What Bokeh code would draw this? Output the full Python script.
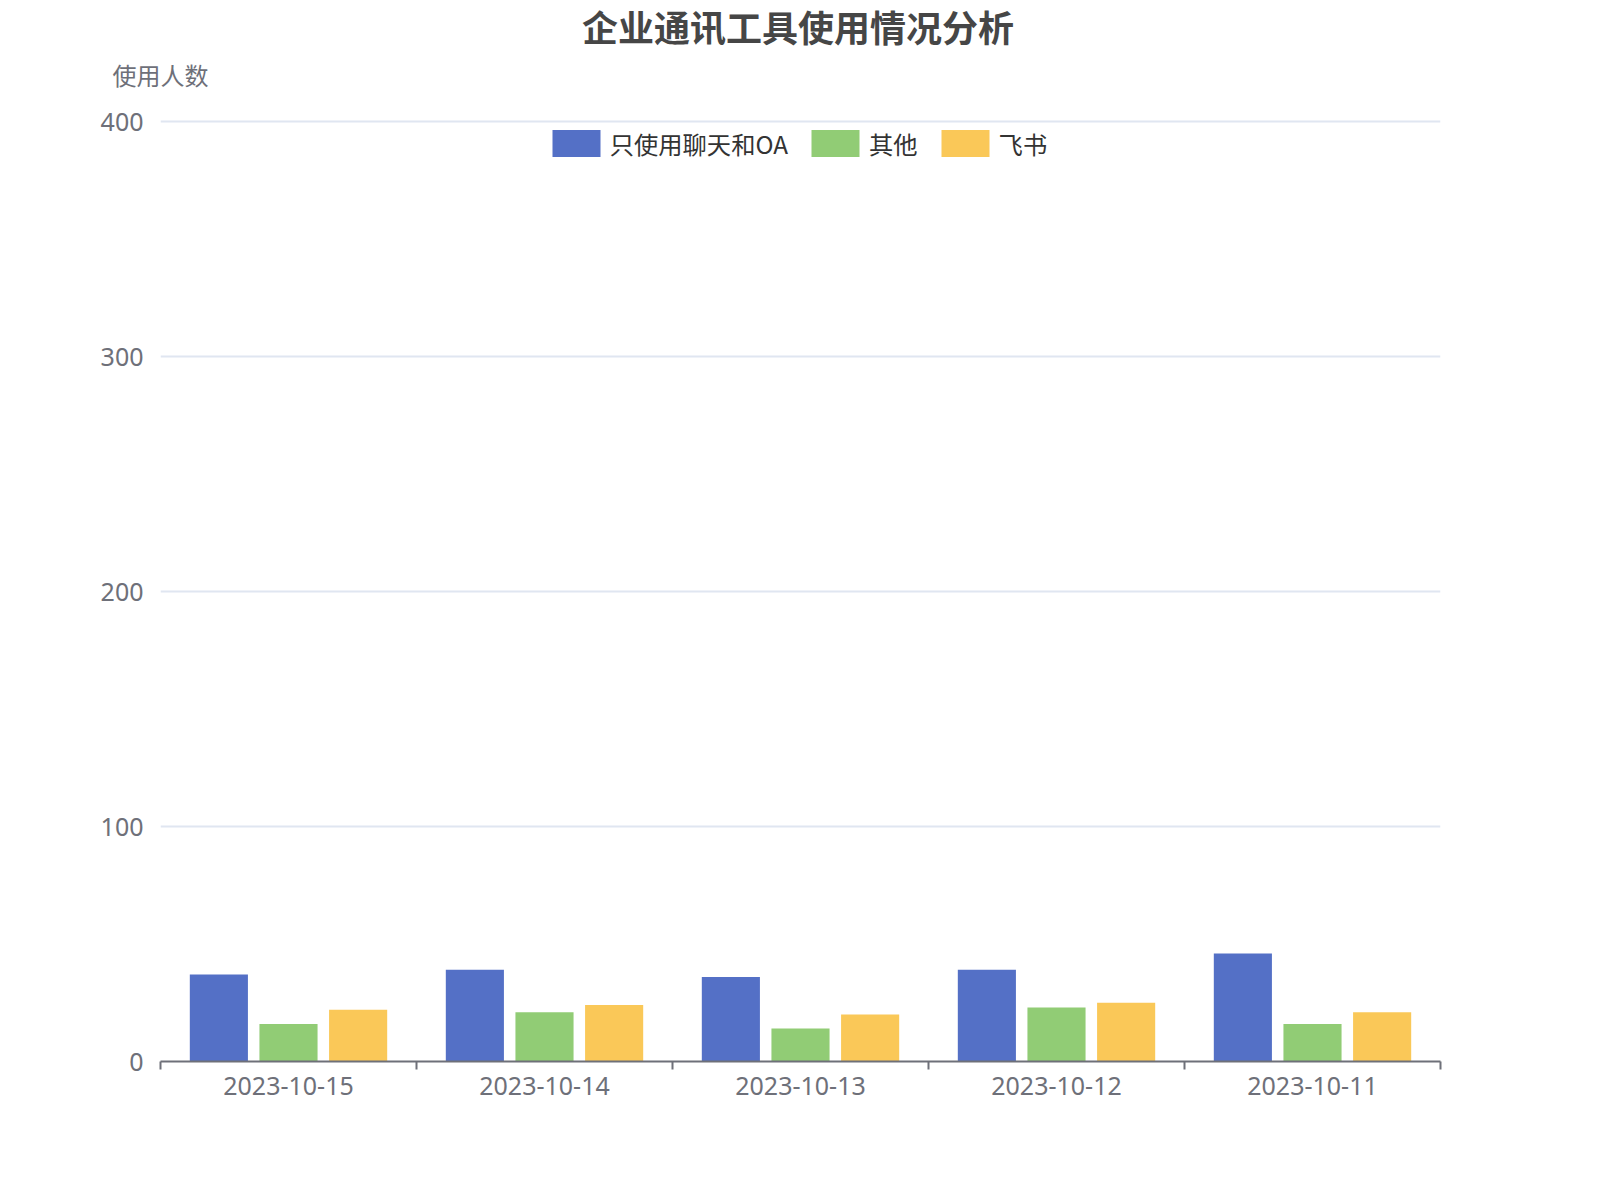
from bokeh.plotting import figure
from bokeh.layouts import column
from bokeh.models import (ColumnDataSource, FactorRange, Range1d, LinearAxis, FixedTicker,
                          Legend, LegendItem, Label)
from bokeh.transform import dodge
from bokeh.embed import file_html
from bokeh.resources import INLINE

# ---- data ----
categories = ["2023-10-15", "2023-10-14", "2023-10-13", "2023-10-12", "2023-10-11"]
series_names = ["只使用聊天和OA", "其他", "飞书"]
chat_oa = [37, 39, 36, 39, 46]
other = [16, 21, 14, 23, 16]
feishu = [22, 24, 20, 25, 21]
y_ticks = [0, 100, 200, 300, 400]
title_text = "企业通讯工具使用情况分析"
y_name = "使用人数"

colors = ["#5470c6", "#91cc75", "#fac858"]
CJK = "Noto Sans CJK SC"
NUM = "Noto Sans"
AXIS_GRAY = "#6e7079"

W = 1584
HT = 91                  # header band (title + axis name)
TOP = 20                 # space above main frame
HM = 1093                # main chart height
FL, FW = 160, 1280       # frame left / width
FH = 950                 # frame height (400 line sits 10px below frame top)
PX_PER_UNIT = 940 / 400
y_max = FH / PX_PER_UNIT

# ---- header: title and y-axis name ----
head = figure(width=W, height=HT, x_range=Range1d(0, W), y_range=Range1d(0, HT),
              output_backend="svg", toolbar_location=None, title_location=None,
              x_axis_location=None, y_axis_location=None,
              min_border=0, frame_width=W, frame_height=HT)
if "frame_align" in head.properties():
    head.frame_align = False
head.outline_line_color = None
head.xgrid.visible = False
head.ygrid.visible = False
head.add_layout(Label(x=797.5, y=HT - 25, text=title_text,
                      text_align="center", text_baseline="middle", text_font=CJK,
                      text_font_size="36px", text_font_style="bold", text_color="#464646"))
head.add_layout(Label(x=FL, y=HT - 74, text=y_name,
                      text_align="center", text_baseline="middle", text_font=CJK,
                      text_font_size="24px", text_color=AXIS_GRAY))

# ---- main chart ----
source = ColumnDataSource(dict(date=categories, chat_oa=chat_oa, other=other, feishu=feishu))

p = figure(width=W, height=HM, x_range=FactorRange(*categories, range_padding=0),
           y_range=Range1d(y_ticks[0], y_max),
           output_backend="svg", toolbar_location=None, title_location=None,
           x_axis_location=None, y_axis_location=None,
           min_border_left=FL, min_border_top=TOP, min_border_right=W - FL - FW,
           min_border_bottom=HM - FH - TOP, frame_width=FW, frame_height=FH)
if "frame_align" in p.properties():
    p.frame_align = False
p.outline_line_color = None
p.xgrid.grid_line_color = None

yaxis = LinearAxis(ticker=FixedTicker(ticks=y_ticks))
yaxis.axis_line_color = None
yaxis.major_tick_line_color = None
yaxis.minor_tick_line_color = None
yaxis.major_tick_out = 0
yaxis.major_tick_in = 0
yaxis.major_label_standoff = 17
yaxis.major_label_text_font = NUM
yaxis.major_label_text_font_size = "25px"
yaxis.major_label_text_color = AXIS_GRAY
p.add_layout(yaxis, "left")

p.ygrid.ticker = FixedTicker(ticks=y_ticks[1:])
p.ygrid.grid_line_color = "#e0e6f1"
p.ygrid.grid_line_width = 2

# x axis on the factor range's synthetic coordinates:
# minor ticks at category boundaries, labels at category centers
n = len(categories)
centers = [i + 0.5 for i in range(n)]
bounds = [float(i) for i in range(n + 1)]
xaxis = LinearAxis(ticker=FixedTicker(ticks=centers, minor_ticks=bounds))
xaxis.major_label_overrides = {c: lab for c, lab in zip(centers, categories)}
xaxis.axis_line_color = AXIS_GRAY
xaxis.axis_line_width = 2
xaxis.major_tick_line_color = None
xaxis.major_tick_out = 0
xaxis.major_tick_in = 0
xaxis.minor_tick_line_color = AXIS_GRAY
xaxis.minor_tick_line_width = 2
xaxis.minor_tick_out = 8
xaxis.minor_tick_in = 0
xaxis.major_label_standoff = 7
xaxis.major_label_text_font = NUM
xaxis.major_label_text_font_size = "25px"
xaxis.major_label_text_color = AXIS_GRAY
p.add_layout(xaxis, "below")

bw = 0.227
offs = [-0.272, 0.0, 0.272]
fields = ["chat_oa", "other", "feishu"]
bar_renderers = []
for f, o, c in zip(fields, offs, colors):
    r = p.vbar(x=dodge("date", o, range=p.x_range), top=f, bottom=0, width=bw,
               source=source, fill_color=c, line_color=None)
    bar_renderers.append(r)

legend = Legend(items=[LegendItem(label=nm, renderers=[r]) for nm, r in zip(series_names, bar_renderers)],
                orientation="horizontal", location=(385.7, 900.4),
                glyph_width=60, glyph_height=34, label_standoff=4, spacing=17,
                padding=0, margin=0, border_line_color=None, background_fill_alpha=0,
                label_text_font=CJK, label_text_font_size="24.3px", label_text_color="#333333",
                label_height=34)
p.add_layout(legend, "center")

open("out.html", "w").write(file_html(column(head, p), INLINE))
